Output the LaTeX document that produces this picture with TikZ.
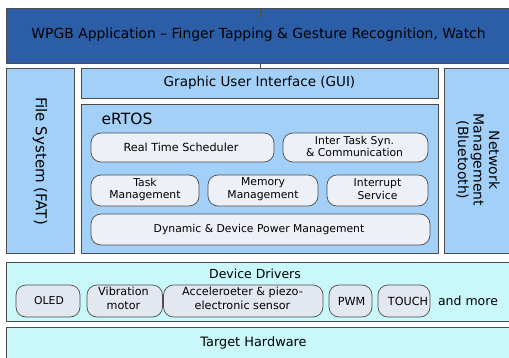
\documentclass[tikz,border=0pt]{standalone}
\usepackage{fontspec}
\setmainfont{DejaVu Sans}
\begin{document}
\begin{tikzpicture}[x=1pt,y=-1pt,
  layer/.style={draw=black!70,line width=0.8pt},
  pill/.style={draw=black!70,line width=0.7pt,rounded corners=10pt,fill=pillc},
  dpill/.style={draw=black!70,line width=0.7pt,rounded corners=10pt,fill=dpillc},
  lbl/.style={inner sep=0pt,align=center},
  ptxt/.style={lbl,font=\fontsize{10.8}{12.8}\selectfont},
  dtxt/.style={lbl,font=\fontsize{11.2}{13.5}\selectfont}]
\definecolor{topc}{HTML}{2C5EA8}
\definecolor{lblue}{HTML}{A2D0F8}
\definecolor{pillc}{HTML}{EDF0F6}
\definecolor{cyanc}{HTML}{C9F8FB}
\definecolor{dpillc}{HTML}{E3E7EF}
\useasboundingbox (0,0) rectangle (509,357);
\clip (0,0) rectangle (509,357);
% top application layer
\draw[layer,fill=topc] (6,8) rectangle (515,63);
\node[lbl,font=\fontsize{13.9}{15}\selectfont] (app) at (258.5,35) {WPGB Application -- Finger Tapping \& Gesture Recognition, Watch};
\coordinate (t1) at (260,9);
\coordinate (t2) at (260,18);
\draw[black!70,line width=0.7pt] (t1) -- (t2);
% side boxes
\draw[layer,fill=lblue] (6,68) rectangle (74,253);
\node[lbl,rotate=-90,font=\fontsize{15}{16}\selectfont] (fs) at (40,161) {File System (FAT)};
\draw[layer,fill=lblue] (444,68) rectangle (515,253);
\node[lbl,rotate=-90,font=\fontsize{14}{15.5}\selectfont] (net) at (478,160) {Network\\Management\\(Bluetooth)};
% GUI
\draw[layer,fill=lblue] (81,68) rectangle (438,98);
\node[lbl,font=\fontsize{13.5}{14}\selectfont] (gui) at (259.5,83) {Graphic User Interface (GUI)};
\coordinate (g1) at (260,63);
\coordinate (g2) at (260,68);
\draw[black!70,line width=0.7pt] (g1) -- (g2);
% eRTOS
\draw[layer,fill=lblue] (81,104) rectangle (438,253);
\node[lbl,anchor=west,font=\fontsize{15.5}{16}\selectfont] (ertos) at (101.5,118.5) {eRTOS};
\draw[pill] (91,133) rectangle (274,162);
\node[ptxt,font=\fontsize{11.2}{12.8}\selectfont] (rts) at (181,147.5) {Real Time Scheduler};
\draw[pill] (283,133) rectangle (428,162);
\node[ptxt] (its) at (354.5,146.5) {Inter Task Syn.\\\& Communication};
\draw[pill] (91,175) rectangle (199,206);
\node[ptxt] (tm) at (145,189.5) {Task\\Management};
\draw[pill] (208,175) rectangle (318,206);
\node[ptxt] (mm) at (263,189.5) {Memory\\Management};
\draw[pill] (327,175) rectangle (428,206);
\node[ptxt] (is) at (377.5,189.5) {Interrupt\\Service};
\draw[pill] (91,214) rectangle (430,245);
\node[ptxt] (pm) at (259,229.5) {Dynamic \& Device Power Management};
% device drivers
\draw[layer,fill=cyanc] (6,262) rectangle (515,321);
\node[lbl,font=\fontsize{12.5}{13}\selectfont] (dd) at (255,274) {Device Drivers};
\draw[dpill] (16,285) rectangle (80,317);
\node[dtxt,font=\fontsize{10.8}{13}\selectfont] (oled) at (49,301) {OLED};
\draw[dpill] (87,285) rectangle (162.5,317);
\node[dtxt] (vib) at (123.5,298.5) {Vibration\\motor};
\draw[dpill] (163.5,285) rectangle (323,317);
\node[dtxt] (acc) at (242.5,298.5) {Acceleroeter \& piezo-\\electronic sensor};
\draw[dpill] (329,285) rectangle (372,317);
\node[dtxt] (pwm) at (351.5,301) {PWM};
\draw[dpill] (378,285) rectangle (430,317);
\node[dtxt] (touch) at (408,301) {TOUCH};
\node[lbl,font=\fontsize{12.5}{13}\selectfont] (more) at (468,301) {and more};
% target hardware
\draw[layer,fill=cyanc] (6,327) rectangle (515,365);
\node[lbl,font=\fontsize{12.9}{13}\selectfont] (th) at (253.5,343) {Target Hardware};
\end{tikzpicture}
\end{document}
